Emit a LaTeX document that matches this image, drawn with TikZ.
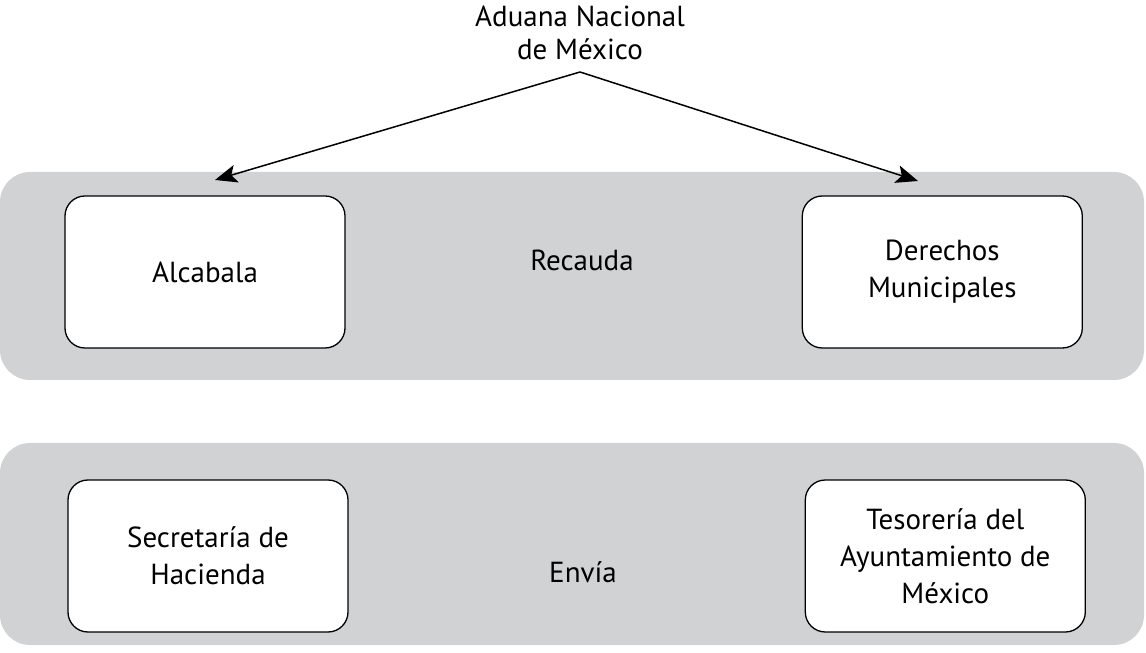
\documentclass[tikz,border=0pt]{standalone}
\usepackage{fontspec}
\setmainfont{PT Sans}
\usetikzlibrary{arrows.meta, positioning}

\definecolor{bandgray}{RGB}{209,210,212}

\tikzset{
  band/.style={fill=bandgray, rounded corners=30pt, minimum width=1144pt, minimum height=208pt, inner sep=0pt},
  office/.style={draw, line width=1.3pt, fill=white, rounded corners=20pt, minimum width=280pt, minimum height=152pt, align=center, inner sep=0pt, font=\fontsize{29}{37}\selectfont},
  verb/.style={font=\fontsize{29}{37}\selectfont},
  feed/.style={line width=1.5pt, -{Stealth[length=22pt, width=18pt, inset=5pt]}},
}

\begin{document}
\begin{tikzpicture}[x=1pt, y=1pt]
  \useasboundingbox (0,0) rectangle (1146,653);

  %% bands
  \node[band] (B1) at (572,377) {};
  \node[band, minimum height=202pt] (B2) at (572,109) {};

  %% recauda
  \node[office] (alc) at (205,381) {Alcabala};
  \node[office, right=456pt of alc] (der) {Derechos\\Municipales};
  \node[verb] (rec) at (582,393) {Recauda};

  %% envia
  \node[office] (sec) at (208,97) {Secretaría de\\Hacienda};
  \node[office, right=456pt of sec] (tes) {Tesorería del\\Ayuntamiento de\\México};
  \node[verb] (env) at (583,81) {Envía};

  %% aduana
  \node[align=center, font=\fontsize{29}{33}\selectfont] (adu) at (580,620) {Aduana Nacional\\de México};
  \coordinate (fork) at (580,581);
  \coordinate (tipL) at (215,473);
  \coordinate (tipR) at (918,472);

  \draw[feed] (fork) -- (tipL);
  \draw[feed] (fork) -- (tipR);
\end{tikzpicture}
\end{document}
